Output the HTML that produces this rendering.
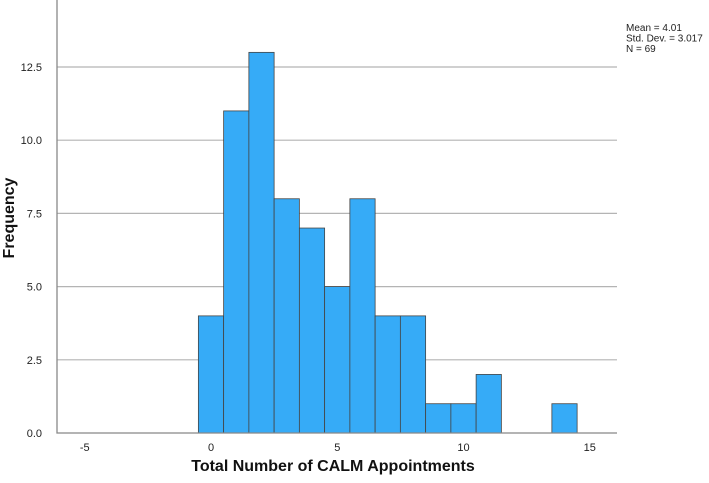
<!DOCTYPE html>
<html><head><meta charset="utf-8"><style>
body{margin:0;background:#fff;}
svg{display:block;font-family:"Liberation Sans",Arial,sans-serif;}
</style></head><body>
<svg id="c" width="709" height="483"></svg>
<script>
const bins=[0,1,2,3,4,5,6,7,8,9,10,11,12,13,14];
const counts=[4,11,13,8,7,5,8,4,4,1,1,2,0,0,1];
const yTicks=[0,2.5,5,7.5,10,12.5];
const yTickLabels=["0.0","2.5","5.0","7.5","10.0","12.5"];
const xTicks=[-5,0,5,10,15];
const stats=["Mean = 4.01","Std. Dev. = 3.017","N = 69"];
const NS="http://www.w3.org/2000/svg";
const svg=document.getElementById('c');
const X0=57,X1=617,Y0=433,YT=0;
function sx(v){return 211+(v)*25.25;}
function sy(v){return Y0-v*29.28;}
function mk(t,a,txt){const e=document.createElementNS(NS,t);for(const k in a)e.setAttribute(k,a[k]);if(txt!==undefined)e.textContent=txt;svg.appendChild(e);return e;}
yTicks.forEach((t,i)=>{
  if(t>0){const g=mk('line',{x1:X0,x2:X1,y1:sy(t),y2:sy(t),stroke:'#b4b4b4','stroke-width':1.2});
  
  }
  const l=mk('text',{x:42,y:sy(t)+4,'text-anchor':'end','font-size':11,fill:'#222'},yTickLabels[i]);
  
  
});
bins.forEach((b,i)=>{
  if(counts[i]<=0)return;
  const r=mk('rect',{x:sx(b-0.5),y:sy(counts[i]),width:sx(b+0.5)-sx(b-0.5),height:Y0-sy(counts[i]),fill:'#36abf7',stroke:'#444','stroke-width':0.8});
  
  
});
const ax=mk('path',{d:`M${X0},${YT}V${Y0}H${X1}`,fill:'none',stroke:'#888','stroke-width':1.3});


xTicks.forEach(t=>{
  const l=mk('text',{x:sx(t),y:451,'text-anchor':'middle','font-size':11,fill:'#222'},String(t));
  
  
});
stats.forEach((s,i)=>{
  const l=mk('text',{x:626,y:31+i*10.5,'font-size':10,fill:'#222'},s);
  
  
});
const xl=mk('text',{x:333,y:471,'text-anchor':'middle','font-size':16,'font-weight':'bold',fill:'#111'},'Total Number of CALM Appointments');


const yl=mk('text',{x:0,y:0,'text-anchor':'middle','font-size':16,'font-weight':'bold',fill:'#111',transform:'translate(14,218) rotate(-90)'},'Frequency');


</script>
</body></html>
